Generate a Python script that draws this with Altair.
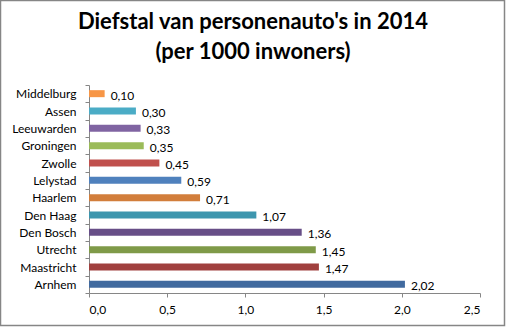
import altair as alt
import pandas as pd

cities = ["Middelburg", "Assen", "Leeuwarden", "Groningen", "Zwolle", "Lelystad",
          "Haarlem", "Den Haag", "Den Bosch", "Utrecht", "Maastricht", "Arnhem"]
values = [0.10, 0.30, 0.33, 0.35, 0.45, 0.59, 0.71, 1.07, 1.36, 1.45, 1.47, 2.02]
colors = ["#F79646", "#4BACC6", "#8064A2", "#9BBB59", "#C0504D", "#4F81BD",
          "#D27E3B", "#3D96AE", "#674E87", "#7F9A48", "#A0403E", "#416A9F"]
x_ticks = [0, 0.5, 1.0, 1.5, 2.0, 2.5]
title_lines = ["Diefstal van personenauto's in 2014", "(per 1000 inwoners)"]

df = pd.DataFrame({"stad": cities, "waarde": values})

FONT = "Lato"

y_enc = alt.Y("stad:N", sort=cities, title=None,
              scale=alt.Scale(paddingInner=0, paddingOuter=0),
              axis=alt.Axis(tickBand="extent", domainColor="#868686", tickColor="#868686",
                            tickSize=4, labelPadding=9, labelFont=FONT, labelFontSize=12,
                            labelColor="#000000"))
x_enc = alt.X("waarde:Q", title=None,
              scale=alt.Scale(domain=[0, 2.5], nice=False),
              axis=alt.Axis(values=x_ticks, grid=False, domainColor="#868686",
                            tickColor="#868686", tickSize=4, labelPadding=7,
                            labelFont=FONT, labelFontSize=12, labelColor="#000000",
                            labelExpr="replace(format(datum.value, '.1f'), '.', ',')"))

base = alt.Chart(df)

bars = base.mark_bar(size=7).encode(
    y=y_enc, x=x_enc,
    color=alt.Color("stad:N", scale=alt.Scale(domain=cities, range=colors), legend=None),
)

labels = base.transform_calculate(
    lbl="replace(format(datum.waarde, '.2f'), '.', ',')"
).mark_text(align="left", baseline="middle", dx=6, dy=2, font=FONT, fontSize=12,
            color="#000000").encode(
    y=alt.Y("stad:N", sort=cities), x="waarde:Q", text="lbl:N"
)

title1 = alt.Chart(pd.DataFrame({"t": [title_lines[0]]})).mark_text(
    font=FONT, fontSize=22, fontWeight="bold", color="#000000",
    align="center", baseline="alphabetic"
).encode(x=alt.value(164), y=alt.value(-56), text="t:N")

title2 = alt.Chart(pd.DataFrame({"t": [title_lines[1]]})).mark_text(
    font=FONT, fontSize=22, fontWeight="bold", color="#000000",
    align="center", baseline="alphabetic"
).encode(x=alt.value(164), y=alt.value(-26), text="t:N")

frame = alt.Chart(pd.DataFrame({"a": [0]})).mark_rect(
    fill=None, stroke="#868686", strokeWidth=1.5, clip=False
).encode(
    x=alt.value(-88.5), x2=alt.value(415.5), y=alt.value(-84.5), y2=alt.value(240.5)
)

chart = alt.layer(bars, labels, title1, title2, frame).properties(
    width=391, height=208,
    autosize=alt.AutoSizeParams(type="none"),
    padding={"left": 89, "top": 85, "right": 27, "bottom": 36},
).configure_view(stroke=None)

chart.save("out.html", embed_options={"renderer": "svg", "actions": False})
